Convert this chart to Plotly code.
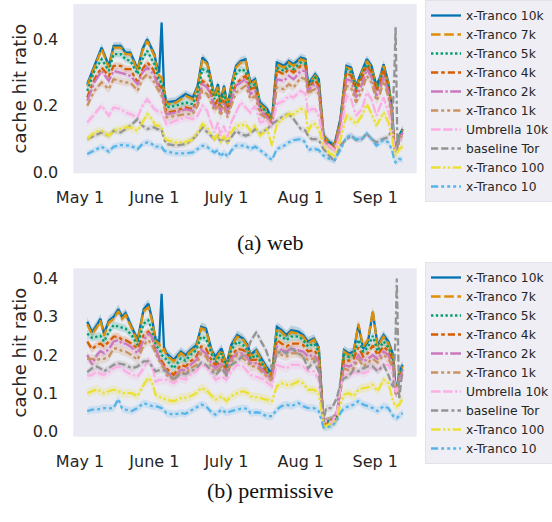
import pandas as pd
import plotly.graph_objects as go

START = pd.Timestamp("2023-05-01")

series_names = ["x-Tranco 10k", "x-Tranco 7k", "x-Tranco 5k", "x-Tranco 4k", "x-Tranco 2k",
                "x-Tranco 1k", "Umbrella 10k", "baseline Tor", "x-Tranco 100", "x-Tranco 10"]
tick_days = [0, 31, 61, 92, 123]
tick_labels = ["May 1", "June 1", "July 1", "Aug 1", "Sep 1"]

# ---------------- (a) web: days since May 1 and mean cache hit ratio ----------------
web_days = [3, 6, 9, 12, 14, 17, 19, 21, 24, 26, 28, 30, 31, 32, 33, 34, 35, 36, 40, 44,
            47, 49, 51, 53, 54, 56, 57.5, 58.5, 60, 61.5, 63, 65, 67, 69, 71, 73, 75, 78, 80, 82,
            85, 87, 89, 92, 94, 95, 96.5, 98, 99.5, 101.5, 104, 106, 108.5, 111, 113, 115, 117.5,
            119.5, 121.5, 123.5, 125, 126.5, 128.5, 130, 131, 131.5, 132.3, 133, 134.5]
web_tranco_10k = [0.265, 0.32, 0.375, 0.32, 0.38, 0.38, 0.36, 0.36, 0.31, 0.37,
                  0.40, 0.37, 0.355, 0.32, 0.30, 0.45, 0.25, 0.21, 0.215, 0.235,
                  0.225, 0.26, 0.345, 0.33, 0.30, 0.23, 0.265, 0.21, 0.26, 0.20,
                  0.26, 0.32, 0.335, 0.34, 0.27, 0.28, 0.21, 0.19, 0.16, 0.33,
                  0.32, 0.335, 0.325, 0.345, 0.34, 0.265, 0.28, 0.295, 0.28, 0.11,
                  0.09, 0.082, 0.16, 0.32, 0.315, 0.26, 0.305, 0.34, 0.32, 0.26,
                  0.285, 0.325, 0.27, 0.19, 0.08, 0.07, 0.09, 0.11, 0.13]
web_tranco_7k = [0.26, 0.315, 0.37, 0.315, 0.375, 0.375, 0.355, 0.355, 0.305, 0.365,
                 0.395, 0.365, 0.35, 0.31, 0.29, 0.285, 0.245, 0.205, 0.21, 0.23,
                 0.22, 0.255, 0.34, 0.325, 0.295, 0.225, 0.26, 0.205, 0.255, 0.195,
                 0.255, 0.315, 0.33, 0.335, 0.265, 0.275, 0.205, 0.185, 0.155, 0.325,
                 0.315, 0.33, 0.32, 0.34, 0.335, 0.26, 0.275, 0.29, 0.275, 0.108,
                 0.088, 0.08, 0.157, 0.315, 0.31, 0.255, 0.30, 0.335, 0.315, 0.255,
                 0.28, 0.32, 0.265, 0.185, 0.078, 0.07, 0.088, 0.108, 0.128]
web_tranco_5k = [0.245, 0.305, 0.34, 0.305, 0.355, 0.355, 0.34, 0.335, 0.295, 0.34,
                 0.365, 0.34, 0.325, 0.30, 0.275, 0.27, 0.235, 0.195, 0.20, 0.21,
                 0.205, 0.24, 0.31, 0.305, 0.28, 0.22, 0.245, 0.20, 0.24, 0.19,
                 0.24, 0.295, 0.31, 0.305, 0.255, 0.265, 0.20, 0.18, 0.15, 0.315,
                 0.305, 0.32, 0.31, 0.33, 0.325, 0.26, 0.27, 0.285, 0.27, 0.105,
                 0.085, 0.078, 0.155, 0.31, 0.30, 0.25, 0.295, 0.325, 0.305, 0.25,
                 0.275, 0.31, 0.26, 0.18, 0.078, 0.07, 0.087, 0.105, 0.125]
web_tranco_4k = [0.225, 0.28, 0.315, 0.29, 0.32, 0.32, 0.31, 0.31, 0.27, 0.31,
                 0.33, 0.315, 0.30, 0.28, 0.26, 0.255, 0.22, 0.18, 0.185, 0.195,
                 0.19, 0.225, 0.275, 0.265, 0.25, 0.20, 0.22, 0.185, 0.22, 0.18,
                 0.225, 0.265, 0.28, 0.29, 0.25, 0.255, 0.19, 0.17, 0.145, 0.305,
                 0.295, 0.31, 0.30, 0.32, 0.32, 0.255, 0.265, 0.275, 0.26, 0.10,
                 0.082, 0.075, 0.15, 0.30, 0.29, 0.24, 0.285, 0.32, 0.30, 0.245,
                 0.265, 0.31, 0.25, 0.175, 0.075, 0.068, 0.085, 0.10, 0.12]
web_tranco_2k = [0.215, 0.27, 0.305, 0.275, 0.305, 0.30, 0.295, 0.29, 0.265, 0.30,
                 0.315, 0.30, 0.29, 0.27, 0.25, 0.245, 0.21, 0.175, 0.18, 0.19,
                 0.185, 0.21, 0.265, 0.255, 0.24, 0.195, 0.21, 0.18, 0.21, 0.175,
                 0.215, 0.26, 0.27, 0.28, 0.235, 0.245, 0.185, 0.165, 0.14, 0.28,
                 0.275, 0.29, 0.28, 0.305, 0.305, 0.24, 0.26, 0.265, 0.25, 0.097,
                 0.08, 0.072, 0.145, 0.28, 0.275, 0.225, 0.265, 0.31, 0.285, 0.23,
                 0.25, 0.29, 0.24, 0.17, 0.075, 0.068, 0.085, 0.10, 0.12]
web_tranco_1k = [0.20, 0.245, 0.27, 0.25, 0.28, 0.275, 0.27, 0.27, 0.245, 0.28,
                 0.295, 0.28, 0.27, 0.255, 0.24, 0.23, 0.20, 0.165, 0.17, 0.175,
                 0.175, 0.20, 0.245, 0.235, 0.22, 0.185, 0.20, 0.17, 0.195, 0.165,
                 0.20, 0.24, 0.25, 0.26, 0.22, 0.23, 0.175, 0.16, 0.14, 0.255,
                 0.25, 0.265, 0.255, 0.285, 0.28, 0.235, 0.245, 0.25, 0.235, 0.092,
                 0.08, 0.07, 0.13, 0.26, 0.255, 0.21, 0.245, 0.29, 0.27, 0.215,
                 0.235, 0.275, 0.225, 0.16, 0.07, 0.065, 0.08, 0.095, 0.115]
web_umbrella_10k = [0.15, 0.175, 0.20, 0.17, 0.195, 0.19, 0.18, 0.175, 0.165, 0.20,
                    0.22, 0.20, 0.19, 0.185, 0.18, 0.18, 0.16, 0.145, 0.155, 0.165,
                    0.16, 0.17, 0.20, 0.185, 0.16, 0.12, 0.15, 0.11, 0.14, 0.105,
                    0.15, 0.18, 0.21, 0.195, 0.18, 0.20, 0.15, 0.155, 0.14, 0.205,
                    0.215, 0.23, 0.225, 0.245, 0.235, 0.18, 0.19, 0.19, 0.17, 0.087,
                    0.08, 0.067, 0.11, 0.23, 0.22, 0.17, 0.19, 0.24, 0.22, 0.17,
                    0.20, 0.225, 0.18, 0.14, 0.07, 0.065, 0.08, 0.095, 0.11]
web_baseline_tor = [0.10, 0.11, 0.12, 0.11, 0.125, 0.12, 0.13, 0.14, 0.16, 0.14,
                    0.13, 0.135, 0.135, 0.13, 0.13, 0.13, 0.10, 0.085, 0.08, 0.085,
                    0.10, 0.115, 0.135, 0.12, 0.115, 0.10, 0.11, 0.09, 0.105, 0.09,
                    0.105, 0.125, 0.115, 0.11, 0.115, 0.13, 0.117, 0.13, 0.145, 0.155,
                    0.17, 0.175, 0.16, 0.13, 0.125, 0.11, 0.10, 0.10, 0.097, 0.07,
                    0.05, 0.032, 0.08, 0.10, 0.11, 0.097, 0.10, 0.116, 0.10, 0.09,
                    0.097, 0.10, 0.106, 0.13, 0.30, 0.44, 0.06, 0.10, 0.10]
web_tranco_100 = [0.10, 0.12, 0.125, 0.11, 0.125, 0.13, 0.135, 0.135, 0.125, 0.15,
                  0.175, 0.16, 0.145, 0.14, 0.14, 0.135, 0.11, 0.097, 0.09, 0.09,
                  0.10, 0.12, 0.145, 0.135, 0.12, 0.10, 0.115, 0.09, 0.11, 0.087,
                  0.12, 0.14, 0.14, 0.145, 0.125, 0.14, 0.11, 0.13, 0.08, 0.145,
                  0.165, 0.175, 0.175, 0.19, 0.185, 0.12, 0.145, 0.145, 0.13, 0.08,
                  0.057, 0.05, 0.097, 0.17, 0.16, 0.146, 0.17, 0.205, 0.176, 0.14,
                  0.16, 0.18, 0.15, 0.106, 0.06, 0.05, 0.06, 0.07, 0.077]
web_tranco_10 = [0.055, 0.067, 0.077, 0.062, 0.077, 0.082, 0.08, 0.08, 0.07, 0.085,
                 0.09, 0.085, 0.077, 0.077, 0.077, 0.077, 0.065, 0.062, 0.057, 0.057,
                 0.06, 0.07, 0.08, 0.077, 0.07, 0.06, 0.067, 0.047, 0.06, 0.047,
                 0.065, 0.08, 0.08, 0.08, 0.07, 0.077, 0.067, 0.05, 0.037, 0.07,
                 0.08, 0.09, 0.097, 0.10, 0.09, 0.067, 0.07, 0.07, 0.067, 0.05,
                 0.04, 0.037, 0.067, 0.106, 0.11, 0.10, 0.10, 0.116, 0.10, 0.08,
                 0.09, 0.097, 0.09, 0.067, 0.035, 0.03, 0.035, 0.04, 0.037]

# ---------------- (b) permissive ----------------
perm_days = [3, 5, 7, 8.5, 10, 12, 14, 16, 17.5, 19, 21.5, 24, 26.5, 28.5, 30, 31.5, 33, 34, 35,
             36, 39, 42, 44, 46, 48.5, 50.5, 52.5, 55, 56.5, 59, 61, 63, 65.5, 68, 70, 71, 73.5,
             75.5, 77.5, 80, 82, 84, 86, 88, 91, 93, 95, 97.5, 99.5, 101.5, 102.5, 105, 107,
             108.5, 110, 112, 114, 116, 118, 120, 122, 124, 126.5, 128.5, 130.5, 131.5, 132,
             133, 134.5]
perm_tranco_10k = [0.287, 0.26, 0.278, 0.295, 0.256, 0.29, 0.30, 0.32, 0.30, 0.31,
                   0.274, 0.24, 0.32, 0.334, 0.295, 0.24, 0.235, 0.36, 0.22, 0.204,
                   0.187, 0.209, 0.20, 0.213, 0.226, 0.274, 0.269, 0.209, 0.196, 0.217,
                   0.174, 0.226, 0.252, 0.243, 0.225, 0.20, 0.213, 0.191, 0.17, 0.152,
                   0.274, 0.265, 0.252, 0.265, 0.261, 0.252, 0.235, 0.243, 0.22, 0.018,
                   0.022, 0.031, 0.035, 0.122, 0.213, 0.204, 0.209, 0.278, 0.217, 0.235,
                   0.313, 0.226, 0.252, 0.235, 0.20, 0.11, 0.105, 0.157, 0.174]
perm_tranco_7k = [0.28, 0.255, 0.272, 0.29, 0.25, 0.285, 0.295, 0.315, 0.295, 0.305,
                  0.27, 0.235, 0.315, 0.325, 0.29, 0.235, 0.23, 0.21, 0.215, 0.20,
                  0.183, 0.205, 0.196, 0.209, 0.222, 0.27, 0.265, 0.205, 0.19, 0.213,
                  0.17, 0.222, 0.248, 0.24, 0.22, 0.196, 0.21, 0.187, 0.165, 0.148,
                  0.27, 0.26, 0.248, 0.26, 0.256, 0.248, 0.23, 0.24, 0.217, 0.018,
                  0.022, 0.031, 0.035, 0.12, 0.209, 0.20, 0.205, 0.282, 0.222, 0.24,
                  0.317, 0.222, 0.248, 0.23, 0.196, 0.108, 0.10, 0.155, 0.17]
perm_tranco_5k = [0.256, 0.245, 0.248, 0.25, 0.235, 0.26, 0.278, 0.274, 0.27, 0.269,
                  0.252, 0.226, 0.282, 0.291, 0.265, 0.226, 0.215, 0.20, 0.195, 0.187,
                  0.165, 0.191, 0.185, 0.20, 0.213, 0.248, 0.243, 0.20, 0.18, 0.204,
                  0.165, 0.213, 0.235, 0.226, 0.21, 0.19, 0.20, 0.18, 0.16, 0.144,
                  0.256, 0.248, 0.239, 0.248, 0.248, 0.239, 0.222, 0.23, 0.209, 0.018,
                  0.025, 0.03, 0.04, 0.115, 0.20, 0.195, 0.20, 0.24, 0.209, 0.22,
                  0.25, 0.21, 0.235, 0.22, 0.19, 0.105, 0.10, 0.15, 0.165]
perm_tranco_4k = [0.235, 0.215, 0.226, 0.23, 0.222, 0.235, 0.248, 0.248, 0.24, 0.239,
                  0.23, 0.217, 0.252, 0.261, 0.248, 0.209, 0.195, 0.183, 0.175, 0.165,
                  0.148, 0.174, 0.17, 0.183, 0.196, 0.222, 0.217, 0.183, 0.174, 0.187,
                  0.157, 0.196, 0.217, 0.213, 0.20, 0.187, 0.187, 0.17, 0.155, 0.144,
                  0.239, 0.23, 0.222, 0.23, 0.23, 0.226, 0.209, 0.213, 0.196, 0.018,
                  0.027, 0.027, 0.045, 0.11, 0.187, 0.185, 0.19, 0.22, 0.196, 0.205,
                  0.225, 0.20, 0.222, 0.21, 0.18, 0.10, 0.10, 0.145, 0.16]
perm_tranco_2k = [0.20, 0.175, 0.20, 0.21, 0.205, 0.215, 0.235, 0.239, 0.23, 0.23,
                  0.22, 0.204, 0.239, 0.256, 0.248, 0.217, 0.19, 0.178, 0.17, 0.157,
                  0.139, 0.161, 0.16, 0.174, 0.187, 0.213, 0.204, 0.174, 0.165, 0.18,
                  0.15, 0.19, 0.204, 0.204, 0.19, 0.178, 0.178, 0.165, 0.15, 0.135,
                  0.222, 0.213, 0.209, 0.217, 0.213, 0.209, 0.196, 0.20, 0.183, 0.02,
                  0.027, 0.027, 0.048, 0.105, 0.174, 0.17, 0.175, 0.20, 0.183, 0.19,
                  0.20, 0.19, 0.209, 0.20, 0.17, 0.10, 0.10, 0.14, 0.155]
perm_tranco_1k = [0.19, 0.19, 0.187, 0.19, 0.19, 0.195, 0.217, 0.217, 0.21, 0.209,
                  0.20, 0.187, 0.226, 0.239, 0.226, 0.204, 0.185, 0.174, 0.165, 0.148,
                  0.135, 0.157, 0.15, 0.165, 0.174, 0.204, 0.196, 0.165, 0.155, 0.17,
                  0.145, 0.18, 0.20, 0.191, 0.18, 0.17, 0.17, 0.157, 0.145, 0.131,
                  0.209, 0.20, 0.196, 0.204, 0.204, 0.196, 0.187, 0.191, 0.174, 0.02,
                  0.027, 0.025, 0.05, 0.10, 0.165, 0.16, 0.165, 0.19, 0.17, 0.18,
                  0.19, 0.18, 0.20, 0.19, 0.165, 0.10, 0.10, 0.135, 0.15]
perm_umbrella_10k = [0.145, 0.148, 0.157, 0.15, 0.148, 0.155, 0.165, 0.17, 0.165, 0.157,
                     0.148, 0.144, 0.165, 0.187, 0.174, 0.13, 0.135, 0.135, 0.135, 0.135,
                     0.126, 0.139, 0.135, 0.148, 0.157, 0.174, 0.17, 0.148, 0.135, 0.144,
                     0.135, 0.157, 0.174, 0.17, 0.155, 0.148, 0.143, 0.139, 0.13, 0.118,
                     0.174, 0.17, 0.165, 0.174, 0.174, 0.17, 0.157, 0.157, 0.135, 0.02,
                     0.027, 0.023, 0.048, 0.113, 0.148, 0.148, 0.152, 0.157, 0.152, 0.157,
                     0.17, 0.161, 0.174, 0.174, 0.148, 0.105, 0.105, 0.13, 0.145]
perm_baseline_tor = [0.155, 0.165, 0.17, 0.165, 0.157, 0.165, 0.174, 0.178, 0.175, 0.174,
                     0.165, 0.17, 0.183, 0.183, 0.17, 0.157, 0.16, 0.161, 0.16, 0.157,
                     0.135, 0.152, 0.15, 0.157, 0.165, 0.18, 0.174, 0.157, 0.148, 0.165,
                     0.148, 0.174, 0.183, 0.20, 0.215, 0.235, 0.26, 0.235, 0.213, 0.165,
                     0.20, 0.213, 0.204, 0.217, 0.204, 0.196, 0.165, 0.183, 0.157, 0.025,
                     0.061, 0.061, 0.087, 0.126, 0.139, 0.144, 0.161, 0.157, 0.165, 0.17,
                     0.17, 0.157, 0.174, 0.148, 0.113, 0.25, 0.40, 0.083, 0.17]
perm_tranco_100 = [0.10, 0.105, 0.11, 0.105, 0.10, 0.105, 0.109, 0.105, 0.10, 0.10,
                   0.10, 0.092, 0.122, 0.14, 0.13, 0.095, 0.09, 0.088, 0.085, 0.083,
                   0.079, 0.087, 0.088, 0.092, 0.10, 0.113, 0.109, 0.092, 0.083, 0.092,
                   0.079, 0.092, 0.10, 0.105, 0.10, 0.092, 0.09, 0.087, 0.083, 0.079,
                   0.118, 0.126, 0.122, 0.122, 0.131, 0.126, 0.109, 0.109, 0.10, 0.015,
                   0.014, 0.023, 0.027, 0.07, 0.096, 0.10, 0.092, 0.109, 0.113, 0.115,
                   0.122, 0.105, 0.135, 0.126, 0.079, 0.065, 0.066, 0.07, 0.087]
perm_tranco_10 = [0.053, 0.057, 0.057, 0.06, 0.061, 0.06, 0.061, 0.085, 0.06, 0.057,
                  0.053, 0.061, 0.074, 0.07, 0.066, 0.066, 0.063, 0.061, 0.055, 0.048,
                  0.044, 0.048, 0.046, 0.053, 0.061, 0.07, 0.066, 0.048, 0.044, 0.057,
                  0.048, 0.053, 0.057, 0.061, 0.058, 0.048, 0.05, 0.048, 0.04, 0.04,
                  0.057, 0.066, 0.07, 0.066, 0.074, 0.066, 0.061, 0.061, 0.053, 0.01,
                  0.01, 0.014, 0.027, 0.048, 0.061, 0.066, 0.07, 0.079, 0.07, 0.066,
                  0.061, 0.053, 0.066, 0.061, 0.04, 0.037, 0.035, 0.04, 0.048]

# half-width of the 95% confidence band around each mean line
ci_half_width = [0.012, 0.01, 0.01, 0.01, 0.01, 0.012, 0.012, 0.009, 0.012, 0.01]

web_series = [web_tranco_10k, web_tranco_7k, web_tranco_5k, web_tranco_4k, web_tranco_2k,
              web_tranco_1k, web_umbrella_10k, web_baseline_tor, web_tranco_100, web_tranco_10]
perm_series = [perm_tranco_10k, perm_tranco_7k, perm_tranco_5k, perm_tranco_4k, perm_tranco_2k,
               perm_tranco_1k, perm_umbrella_10k, perm_baseline_tor, perm_tranco_100, perm_tranco_10]

# seaborn "colorblind" palette and its default dash sequence (in line-width units)
colors = ["#0173b2", "#de8f05", "#029e73", "#d55e00", "#cc78bc",
          "#ca9161", "#fbafe4", "#949494", "#ece133", "#56b4e9"]
dash_units = [None, (4, 1.5), (1, 1), (3, 1.25, 1.5, 1.25), (5, 1, 1, 1),
              (3, 1.25, 1.25, 1.25, 1.25, 1.25), (4, 1, 4, 1, 1, 1),
              (3, 1.25, 3, 1.25, 1.25, 1.25), (4, 1, 1, 1, 1, 1),
              (3, 1.25, 1.25, 1.25, 1.25, 1.25, 1.25, 1.25)]
LINE_W = 2.3
DASH_SCALE = 2.4


def dash_string(units):
    if units is None:
        return "solid"
    return ",".join(f"{u * DASH_SCALE:.1f}px" for u in units)


def rgba(hex_color, alpha):
    h = hex_color.lstrip("#")
    r, g, b = int(h[0:2], 16), int(h[2:4], 16), int(h[4:6], 16)
    return f"rgba({r},{g},{b},{alpha})"


def to_dates(days):
    return [START + pd.Timedelta(days=d) for d in days]


W, H = 552, 522
TEXT = "#262626"
FONT = "DejaVu Sans"

fig = go.Figure()

panels = [
    (web_days, web_series, "x", "y", "legend"),
    (perm_days, perm_series, "x2", "y2", "legend2"),
]

for days, series, xa, ya, leg in panels:
    dates = to_dates(days)
    # confidence bands underneath all lines
    for i, vals in enumerate(series):
        upper = [v + ci_half_width[i] for v in vals]
        lower = [max(v - ci_half_width[i], 0.0) for v in vals]
        fig.add_trace(go.Scatter(x=dates, y=upper, xaxis=xa, yaxis=ya, mode="lines",
                                 line=dict(width=0, color=colors[i]), showlegend=False,
                                 hoverinfo="skip"))
        fig.add_trace(go.Scatter(x=dates, y=lower, xaxis=xa, yaxis=ya, mode="lines",
                                 line=dict(width=0, color=colors[i]), fill="tonexty",
                                 fillcolor=rgba(colors[i], 0.2), showlegend=False,
                                 hoverinfo="skip"))
    for i, vals in enumerate(series):
        fig.add_trace(go.Scatter(x=dates, y=vals, xaxis=xa, yaxis=ya, mode="lines",
                                 name=series_names[i], legend=leg,
                                 line=dict(color=colors[i], width=LINE_W,
                                           dash=dash_string(dash_units[i]))))

x_dom = [73.3 / W, 416.7 / W]
x_range = [START + pd.Timedelta(days=-2.8), START + pd.Timedelta(days=140.3)]
tick_dates = to_dates(tick_days)

common_x = dict(range=x_range, tickvals=tick_dates, ticktext=tick_labels, showgrid=False,
                zeroline=False, showline=False, ticks="", ticklabelstandoff=13,
                automargin=False, tickfont=dict(family=FONT, size=16, color=TEXT))
common_y = dict(showgrid=False, zeroline=False, showline=False, ticks="",
                ticklabelstandoff=14, automargin=False,
                tickfont=dict(family=FONT, size=16, color=TEXT))

# legends are placed in container coordinates so they never push the margins
legend_style = dict(xref="container", yref="container", xanchor="left", yanchor="top",
                    bgcolor="#eeeef4", bordercolor="#e2e2ea", borderwidth=1,
                    traceorder="normal", font=dict(family=FONT, size=12.3, color=TEXT))

axis_title_font = dict(family=FONT, size=18, color=TEXT)
caption_font = dict(family="Liberation Serif", size=22, color="#111111")

fig.update_layout(
    width=W, height=H, margin=dict(l=0, r=0, t=0, b=0, autoexpand=False),
    paper_bgcolor="white", plot_bgcolor="#eaeaf2", showlegend=True,
    xaxis=dict(domain=x_dom, anchor="y", **common_x),
    yaxis=dict(domain=[1 - 173.3 / H, 1 - 4 / H], anchor="x", range=[-0.003, 0.506],
               tickvals=[0.0, 0.2, 0.4], ticktext=["0.0", "0.2", "0.4"], **common_y),
    xaxis2=dict(domain=x_dom, anchor="y2", **common_x),
    yaxis2=dict(domain=[1 - 436.7 / H, 1 - 268.3 / H], anchor="x2", range=[-0.014, 0.427],
                tickvals=[0.0, 0.1, 0.2, 0.3, 0.4],
                ticktext=["0.0", "0.1", "0.2", "0.3", "0.4"], **common_y),
    legend=dict(x=425 / W, y=1.0, **legend_style),
    legend2=dict(x=425 / W, y=1 - 262 / H, **legend_style),
    annotations=[
        dict(text="cache hit ratio", textangle=-90, x=19 / W, y=1 - 88.5 / H,
             xref="paper", yref="paper", xanchor="center", yanchor="middle",
             showarrow=False, font=axis_title_font),
        dict(text="cache hit ratio", textangle=-90, x=19 / W, y=1 - 352.5 / H,
             xref="paper", yref="paper", xanchor="center", yanchor="middle",
             showarrow=False, font=axis_title_font),
        dict(text="(a) web", x=270 / W, y=1 - 242 / H, xref="paper", yref="paper",
             showarrow=False, font=caption_font),
        dict(text="(b) permissive", x=270 / W, y=1 - 505 / H, xref="paper", yref="paper",
             showarrow=False, font=caption_font),
    ],
)

fig.write_html("out.html")
